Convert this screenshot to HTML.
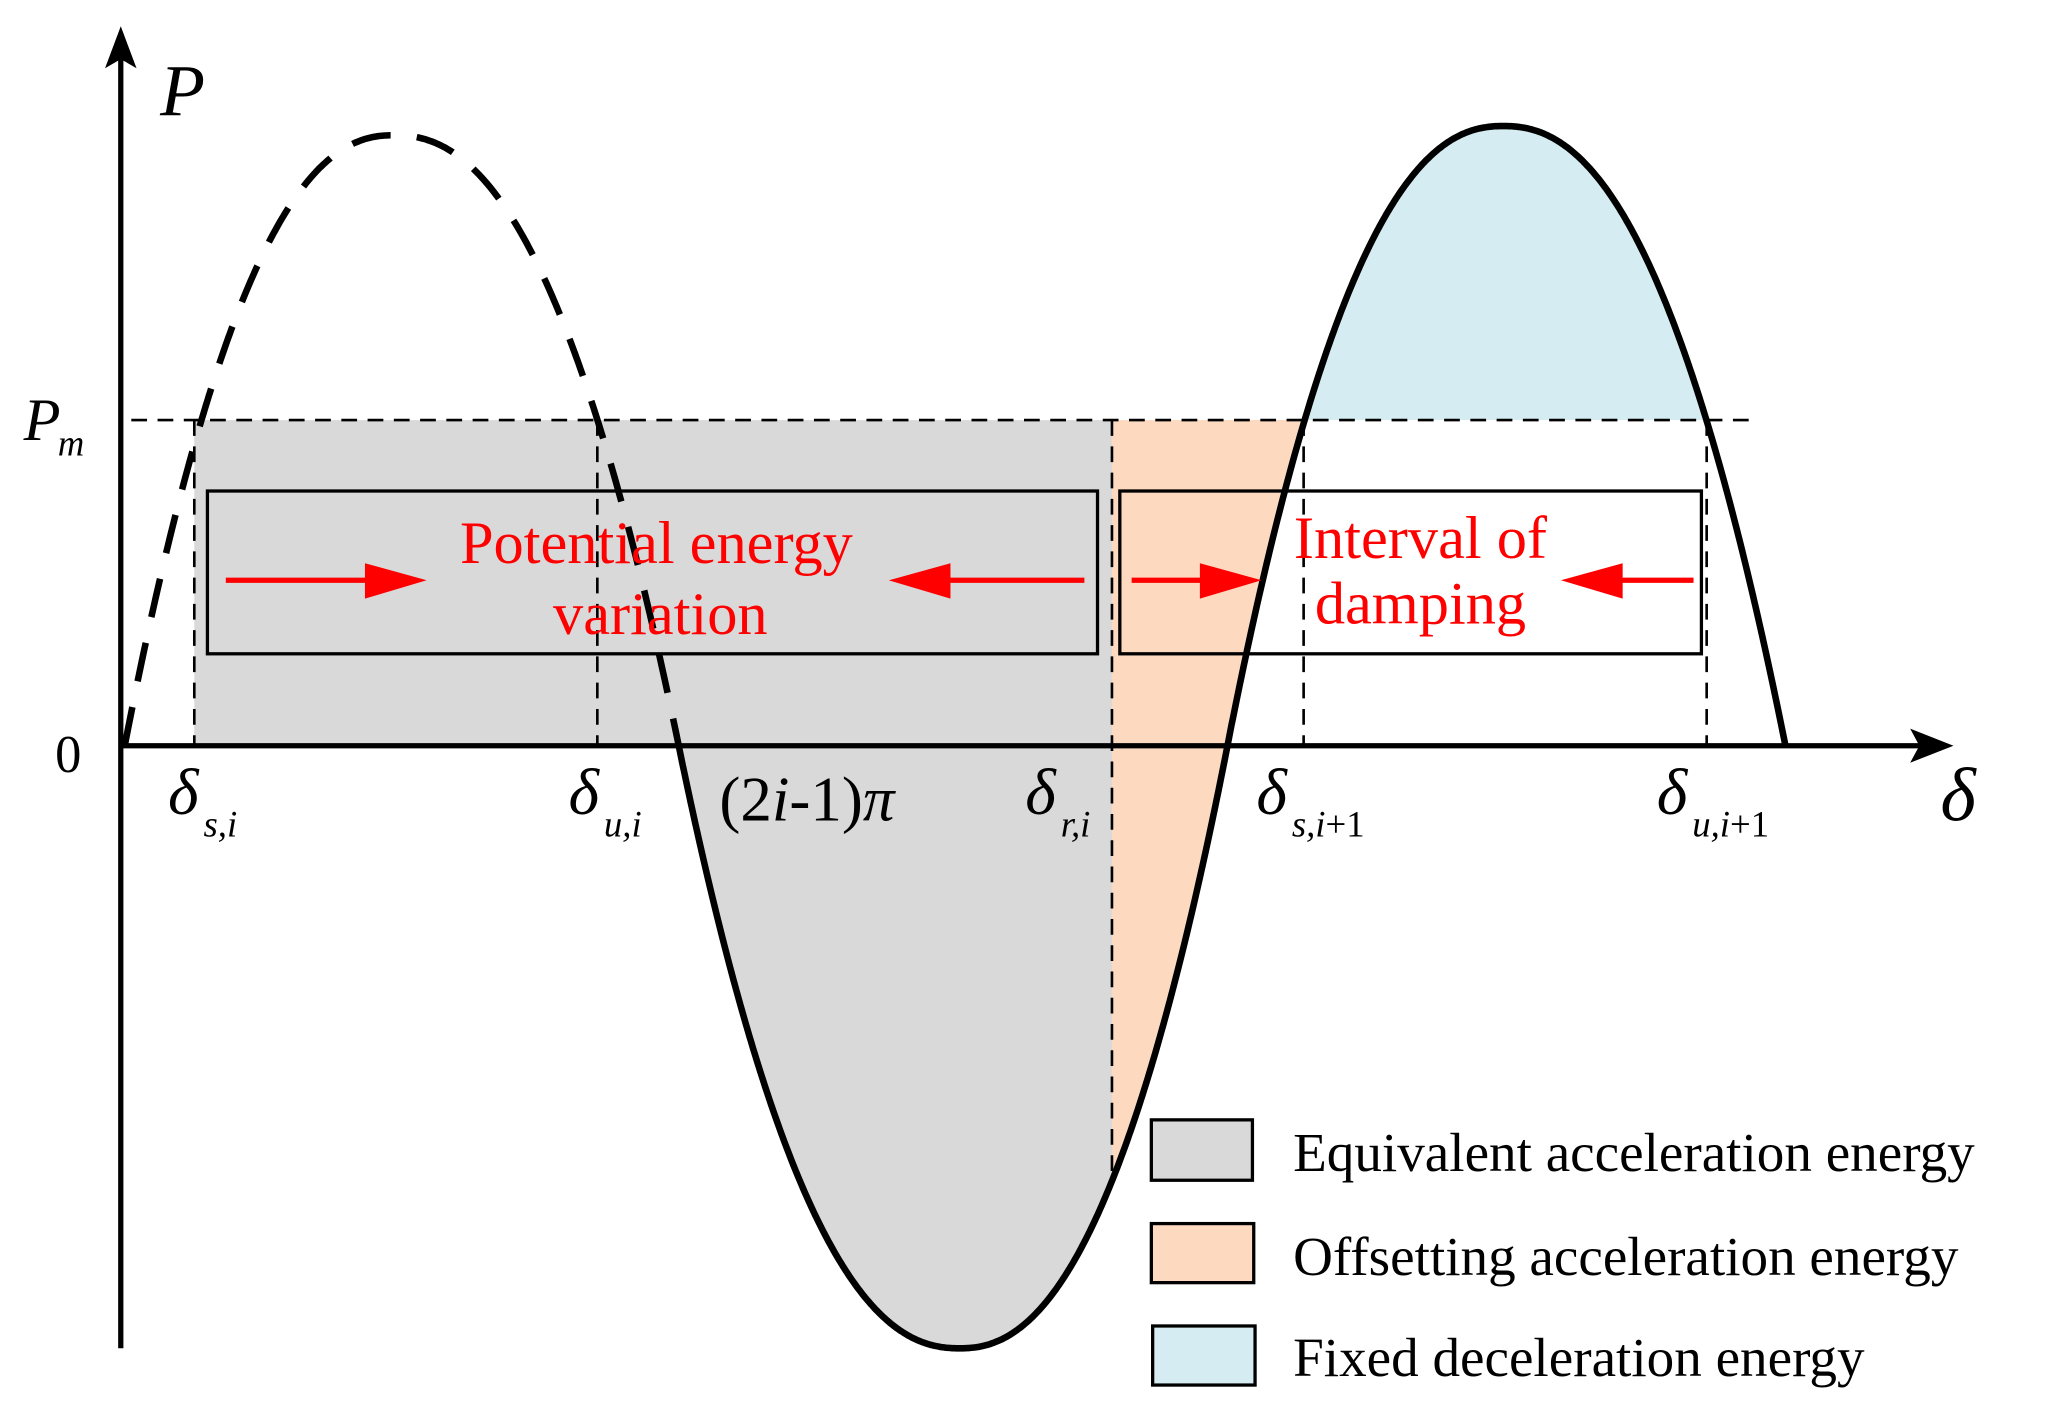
<!DOCTYPE html>
<html><head><meta charset="utf-8"><style>
html,body{margin:0;padding:0;background:#fff;}
svg{display:block;}
text{font-family:"Liberation Serif",serif;}
</style></head><body>
<svg id="s" width="2048" height="1410" viewBox="0 0 1560 1074" preserveAspectRatio="none" xmlns="http://www.w3.org/2000/svg">
<rect x="148" y="320" width="699" height="248" fill="#d9d9d9"/>
<path id="grayb" fill="#d9d9d9"/>
<path id="orange" fill="#fcd9bf"/>
<path id="blue" fill="#d5edf2"/>
<!-- Pm dashed -->
<line x1="100" y1="320" x2="1336" y2="320" stroke="#000" stroke-width="2" stroke-dasharray="12,8"/>
<g stroke="#000" stroke-width="2" stroke-dasharray="12,8">
<line x1="148" y1="320" x2="148" y2="568"/>
<line x1="455" y1="320" x2="455" y2="568"/>
<line x1="847" y1="320" x2="847" y2="892"/>
<line x1="993" y1="320" x2="993" y2="568"/>
<line x1="1300" y1="320" x2="1300" y2="568"/>
</g>
<path id="dash" fill="none" stroke="#000" stroke-width="5" stroke-dasharray="30,20"/>
<path id="solid" fill="none" stroke="#000" stroke-width="5"/>
<!-- axes -->
<line x1="92" y1="568" x2="1465" y2="568" stroke="#000" stroke-width="4"/>
<polygon points="1488,568 1455,555 1462,568 1455,581" fill="#000"/>
<line x1="92" y1="1027" x2="92" y2="40" stroke="#000" stroke-width="4"/>
<polygon points="92,20 80,52 92,45 104,52" fill="#000"/>
<!-- boxes -->
<rect x="158" y="374" width="678" height="124" fill="none" stroke="#000" stroke-width="2.5"/>
<rect x="853" y="374" width="443" height="124" fill="none" stroke="#000" stroke-width="2.5"/>
<!-- red arrows -->
<g stroke="#f00" stroke-width="4">
<line x1="172" y1="442" x2="285" y2="442"/>
<line x1="826" y1="442" x2="715" y2="442"/>
<line x1="862" y1="442" x2="920" y2="442"/>
<line x1="1290" y1="442" x2="1228" y2="442"/>
</g>
<g fill="#f00">
<polygon points="278,429 325,442 278,456"/>
<polygon points="724,429 677,442 724,456"/>
<polygon points="914,429 961,442 914,456"/>
<polygon points="1236,429 1189,442 1236,456"/>
</g>
<g fill="#f00" font-size="46" text-anchor="middle">
<text x="500" y="429">Potential energy</text>
<text x="503" y="483">variation</text>
<text x="1082" y="425">Interval of</text>
<text x="1082" y="475">damping</text>
</g>
<!-- labels -->
<text x="122" y="88" font-size="56" font-style="italic">P</text>
<text x="18" y="335" font-size="46" font-style="italic">P</text>
<text x="44" y="347" font-size="28" font-style="italic">m</text>
<text x="42" y="588" font-size="40">0</text>
<g font-style="italic">
<text x="128" y="620" font-size="50">δ</text><text x="155" y="637" font-size="28">s,i</text>
<text x="433" y="620" font-size="50">δ</text><text x="460" y="637" font-size="28">u,i</text>
<text x="781" y="620" font-size="50">δ</text><text x="808" y="637" font-size="28">r,i</text>
<text x="957" y="620" font-size="50">δ</text><text x="984" y="637" font-size="28">s,i<tspan font-style="normal">+1</tspan></text>
<text x="1262" y="620" font-size="50">δ</text><text x="1289" y="637" font-size="28">u,i<tspan font-style="normal">+1</tspan></text>
<text x="1478" y="625" font-size="58">δ</text>
</g>
<text x="548" y="625" font-size="48">(2<tspan font-style="italic">i</tspan>-1)<tspan font-style="italic">π</tspan></text>
<!-- legend -->
<rect x="877" y="853" width="77" height="46" fill="#d9d9d9" stroke="#000" stroke-width="2.5"/>
<rect x="877" y="932" width="78" height="45" fill="#fcd9bf" stroke="#000" stroke-width="2.5"/>
<rect x="878" y="1010" width="78" height="45" fill="#d5edf2" stroke="#000" stroke-width="2.5"/>
<g font-size="42">
<text x="985" y="892">Equivalent acceleration energy</text>
<text x="985" y="971">Offsetting acceleration energy</text>
<text x="985" y="1048">Fixed deceleration energy</text>
</g>
</svg>
<script>
(function(){
var P=2.27;
var lobes=[[300,95,517,465,1],[731,517,935,459,-1],[1145,935,1360,472,1]];
function f(x){
 for(var i=0;i<lobes.length;i++){var l=lobes[i];
  if(x>=l[1]-3&&x<=l[2]+3){var t=x<l[0]?(l[0]-x)/(l[0]-l[1]):(x-l[0])/(l[2]-l[0]);
   t=Math.min(Math.abs(t),1.05);return 568-l[4]*l[3]*(1-Math.pow(t,P));}}
 return 568;}
function pts(a,b,st){var s=[];if(a<b){for(var x=a;x<b;x+=st)s.push(x.toFixed(1)+","+f(x).toFixed(1));}else{for(var x=a;x>b;x-=st)s.push(x.toFixed(1)+","+f(x).toFixed(1));}s.push(b.toFixed(1)+","+f(b).toFixed(1));return s;}
document.getElementById('dash').setAttribute('d','M'+pts(95,517,1).join(' L'));
document.getElementById('solid').setAttribute('d','M'+pts(517,1360,1).join(' L'));
document.getElementById('grayb').setAttribute('d','M517,568 L'+pts(517,847,1).join(' L')+' L847,568 Z');
var xa=935;while(f(xa)>320)xa+=0.2;
var xb=1360;while(f(xb)>320)xb-=0.2;
document.getElementById('orange').setAttribute('d','M847,320 L'+pts(xa,847,1).join(' L')+' Z');
document.getElementById('blue').setAttribute('d','M'+pts(xa,xb,1).join(' L')+' Z');
})();
</script>
</body></html>
